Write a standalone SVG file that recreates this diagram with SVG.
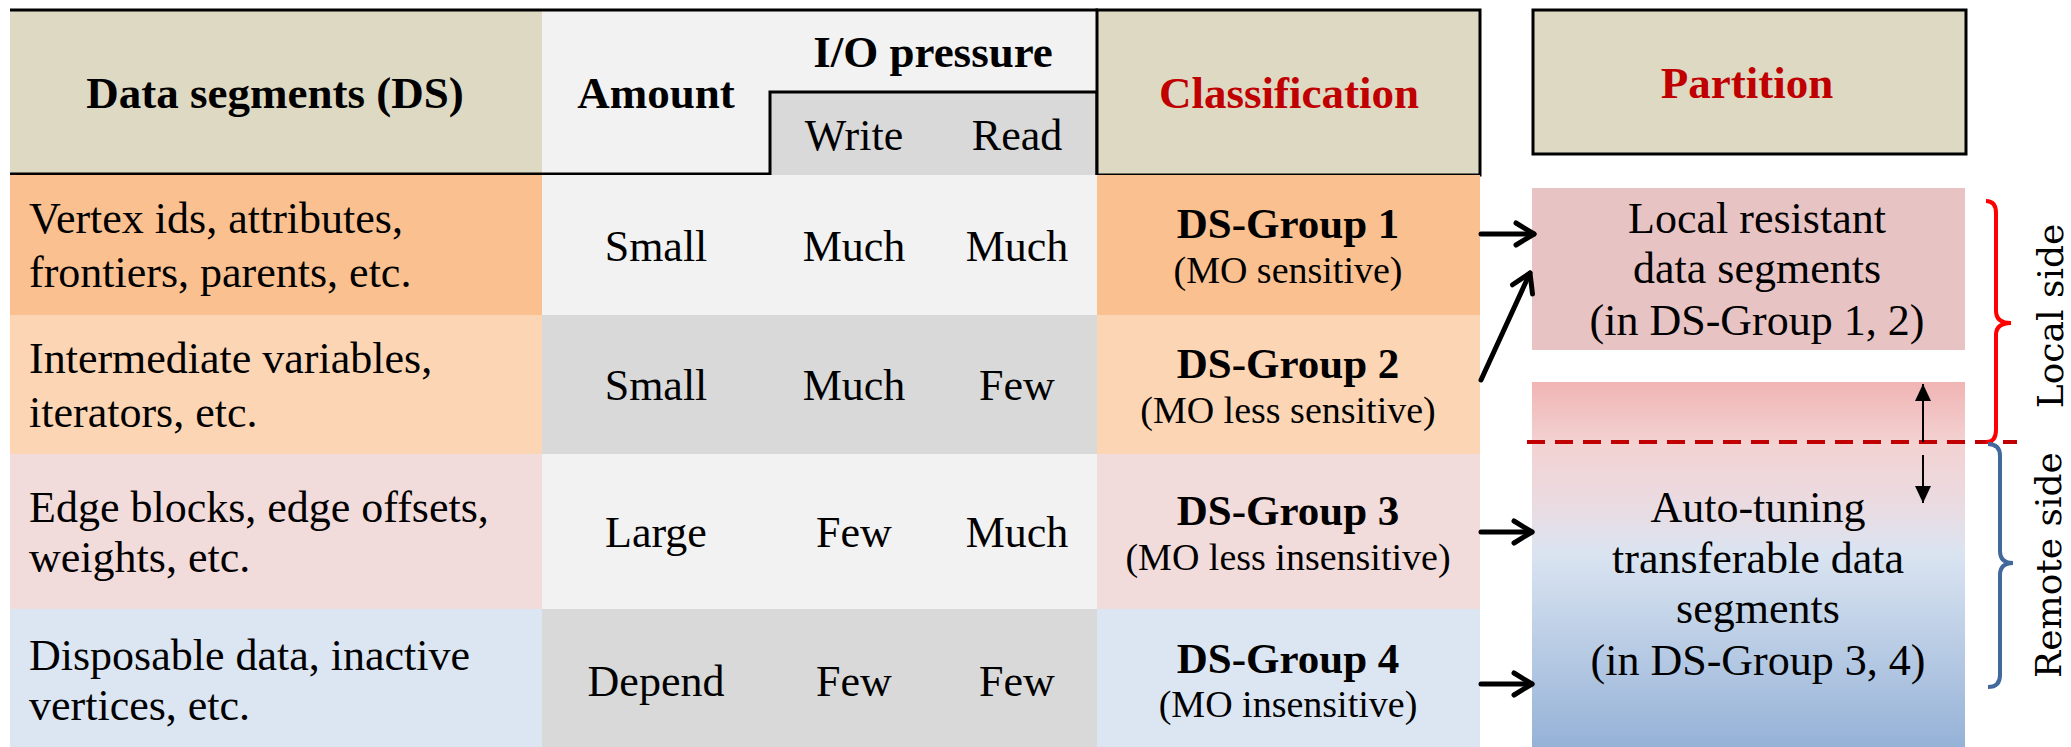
<svg xmlns="http://www.w3.org/2000/svg" width="2071" height="747" viewBox="0 0 2071 747">
  <style>
    text { font-family: "Liberation Serif", "Times New Roman", serif; fill: #000; }
    .cell { font-size: 44px; }
    .mid { text-anchor: middle; }
    .hdr { font-size: 45px; font-weight: bold; text-anchor: middle; }
    .red { fill: #C00000; }
    .grp { font-size: 43px; font-weight: bold; text-anchor: middle; }
    .sub { font-size: 38px; text-anchor: middle; }
    .side { font-family: "DejaVu Serif", serif; font-size: 36px; text-anchor: middle; }
    .edge { fill: none; stroke: #000; stroke-width: 5; stroke-linecap: round; }
    .thin { fill: none; stroke: #000; stroke-width: 2; }
    .frame { fill: none; stroke: #000; stroke-width: 3; }
  </style>
  <defs>
    <marker id="chevron" markerUnits="userSpaceOnUse" viewBox="-26 -16 32 32" refX="0" refY="0" markerWidth="32" markerHeight="32" orient="auto">
      <path d="M-18,-11 L0,0 L-18,11" fill="none" stroke="#000" stroke-width="5" stroke-linecap="round" stroke-linejoin="round"/>
    </marker>
    <marker id="tri" markerUnits="userSpaceOnUse" viewBox="0 -9 18 18" refX="17" refY="0" markerWidth="18" markerHeight="18" orient="auto">
      <path d="M0,-8 L17,0 L0,8 Z" fill="#000"/>
    </marker>
    <linearGradient id="remoteFill" x1="0" y1="0" x2="0" y2="1">
      <stop offset="0" stop-color="#F1B4B4"/>
      <stop offset="0.17" stop-color="#F3D2D2"/>
      <stop offset="0.35" stop-color="#E9DCE3"/>
      <stop offset="0.47" stop-color="#DAE4F1"/>
      <stop offset="1" stop-color="#95B2D7"/>
    </linearGradient>
  </defs>

  <!-- table header -->
  <g id="header">
    <rect x="10" y="10" width="532" height="164" fill="#DDD9C3"/>
    <rect x="542" y="10" width="556" height="164" fill="#F2F2F2"/>
    <rect x="770" y="92" width="328" height="83" fill="#D9D9D9"/>
    <path class="frame" d="M10,10 H1098 M10,174 H770 V92 H1097 V175"/>
    <text class="hdr" x="275" y="108">Data segments (DS)</text>
    <text class="hdr" x="656" y="108">Amount</text>
    <text class="hdr" x="933" y="67">I/O pressure</text>
    <text class="cell mid" x="854" y="150">Write</text>
    <text class="cell mid" x="1017" y="150">Read</text>
  </g>

  <g id="classification-head">
    <rect x="1097" y="10" width="383" height="165" fill="#DDD9C3" stroke="#000" stroke-width="3"/>
    <text class="hdr red" x="1289" y="108">Classification</text>
  </g>

  <g id="partition-head">
    <rect x="1533" y="10" width="433" height="144" fill="#DDD9C3" stroke="#000" stroke-width="3"/>
    <text class="hdr red" x="1747" y="98">Partition</text>
  </g>

  <!-- row 1 -->
  <g id="row1">
    <rect x="10" y="175" width="532" height="140" fill="#FAC090"/>
    <rect x="542" y="175" width="555" height="140" fill="#F2F2F2"/>
    <text class="cell" x="29" y="233">Vertex ids, attributes,</text>
    <text class="cell" x="29" y="287">frontiers, parents, etc.</text>
    <text class="cell mid" x="656" y="261">Small</text>
    <text class="cell mid" x="854" y="261">Much</text>
    <text class="cell mid" x="1017" y="261">Much</text>
  </g>
  <g id="group1">
    <rect x="1097" y="175" width="383" height="140" fill="#FAC090"/>
    <text class="grp" x="1288" y="238">DS-Group 1</text>
    <text class="sub" x="1288" y="283">(MO sensitive)</text>
  </g>

  <!-- row 2 -->
  <g id="row2">
    <rect x="10" y="315" width="532" height="139" fill="#FCD5B4"/>
    <rect x="542" y="315" width="555" height="139" fill="#D9D9D9"/>
    <text class="cell" x="29" y="373">Intermediate variables,</text>
    <text class="cell" x="29" y="427">iterators, etc.</text>
    <text class="cell mid" x="656" y="400">Small</text>
    <text class="cell mid" x="854" y="400">Much</text>
    <text class="cell mid" x="1017" y="400">Few</text>
  </g>
  <g id="group2">
    <rect x="1097" y="315" width="383" height="139" fill="#FCD5B4"/>
    <text class="grp" x="1288" y="378">DS-Group 2</text>
    <text class="sub" x="1288" y="423">(MO less sensitive)</text>
  </g>

  <!-- row 3 -->
  <g id="row3">
    <rect x="10" y="454" width="532" height="155" fill="#F2DCDB"/>
    <rect x="542" y="454" width="555" height="155" fill="#F2F2F2"/>
    <text class="cell" x="29" y="522">Edge blocks, edge offsets,</text>
    <text class="cell" x="29" y="572">weights, etc.</text>
    <text class="cell mid" x="656" y="547">Large</text>
    <text class="cell mid" x="854" y="547">Few</text>
    <text class="cell mid" x="1017" y="547">Much</text>
  </g>
  <g id="group3">
    <rect x="1097" y="454" width="383" height="155" fill="#F2DCDB"/>
    <text class="grp" x="1288" y="525">DS-Group 3</text>
    <text class="sub" x="1288" y="570">(MO less insensitive)</text>
  </g>

  <!-- row 4 -->
  <g id="row4">
    <rect x="10" y="609" width="532" height="138" fill="#DCE6F2"/>
    <rect x="542" y="609" width="555" height="138" fill="#D9D9D9"/>
    <text class="cell" x="29" y="670">Disposable data, inactive</text>
    <text class="cell" x="29" y="720">vertices, etc.</text>
    <text class="cell mid" x="656" y="696">Depend</text>
    <text class="cell mid" x="854" y="696">Few</text>
    <text class="cell mid" x="1017" y="696">Few</text>
  </g>
  <g id="group4">
    <rect x="1097" y="609" width="383" height="138" fill="#DCE6F2"/>
    <text class="grp" x="1288" y="673">DS-Group 4</text>
    <text class="sub" x="1288" y="717">(MO insensitive)</text>
  </g>

  <!-- partition targets -->
  <g id="local-part">
    <rect x="1532" y="188" width="433" height="162" fill="#E8C3C4"/>
    <text class="cell mid" x="1757" y="233">Local resistant</text>
    <text class="cell mid" x="1757" y="283">data segments</text>
    <text class="cell mid" x="1757" y="335">(in DS-Group 1, 2)</text>
  </g>
  <g id="remote-part">
    <rect x="1532" y="382" width="433" height="365" fill="url(#remoteFill)"/>
    <text class="cell mid" x="1758" y="522">Auto-tuning</text>
    <text class="cell mid" x="1758" y="573">transferable data</text>
    <text class="cell mid" x="1758" y="623">segments</text>
    <text class="cell mid" x="1758" y="675">(in DS-Group 3, 4)</text>
  </g>

  <!-- local / remote boundary -->
  <g id="boundary">
    <line x1="1527" y1="442" x2="2017" y2="442" stroke="#C00000" stroke-width="4" stroke-dasharray="18 10"/>
    <line class="thin" x1="1923" y1="442" x2="1923" y2="384" marker-end="url(#tri)"/>
    <line class="thin" x1="1923" y1="455" x2="1923" y2="503" marker-end="url(#tri)"/>
  </g>

  <g id="local-side">
    <path d="M1986,201 Q1996,201 1996,213 L1996,311 Q1996,323 2011,323 Q1996,323 1996,335 L1996,430 Q1996,442 1986,442" fill="none" stroke="#FF0000" stroke-width="4"/>
    <text class="side" transform="translate(2063,316) rotate(-90)">Local side</text>
  </g>
  <g id="remote-side">
    <path d="M1988,444 Q2000,444 2000,456 L2000,551 Q2000,563 2013,563 Q2000,563 2000,575 L2000,675 Q2000,687 1988,687" fill="none" stroke="#41699B" stroke-width="4"/>
    <text class="side" transform="translate(2061,565) rotate(-90)">Remote side</text>
  </g>

  <!-- connectors -->
  <g id="connectors">
    <line class="edge" x1="1481" y1="234" x2="1534" y2="234" marker-end="url(#chevron)"/>
    <line class="edge" x1="1481" y1="380" x2="1530" y2="273" marker-end="url(#chevron)"/>
    <line class="edge" x1="1481" y1="532" x2="1532" y2="532" marker-end="url(#chevron)"/>
    <line class="edge" x1="1481" y1="684" x2="1532" y2="684" marker-end="url(#chevron)"/>
  </g>
</svg>
